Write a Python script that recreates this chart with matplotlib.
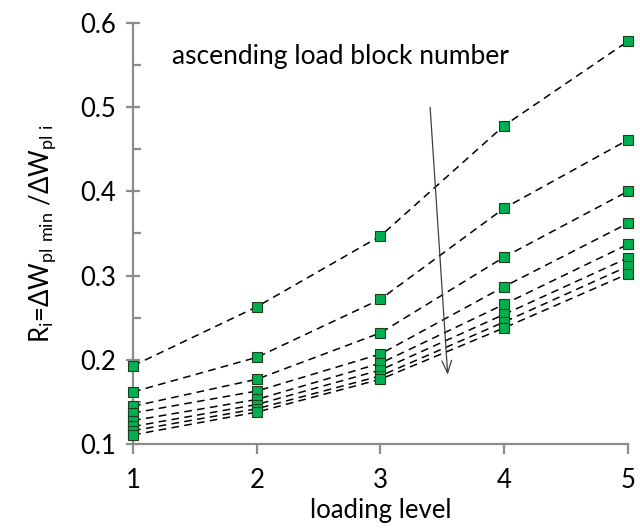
import matplotlib

matplotlib.use("Agg")

import matplotlib.pyplot as plt
from matplotlib.ticker import MultipleLocator

plt.rcParams["font.family"] = ["Lato", "DejaVu Sans"]
plt.rcParams["mathtext.fontset"] = "custom"
plt.rcParams["mathtext.rm"] = "Lato"

# loading levels on the x axis
LEVELS = [1, 2, 3, 4, 5]

# ratio R_i per load block, first block on top
BLOCK_1 = [0.193, 0.263, 0.347, 0.478, 0.578]
BLOCK_2 = [0.162, 0.203, 0.272, 0.380, 0.461]
BLOCK_3 = [0.145, 0.177, 0.232, 0.322, 0.400]
BLOCK_4 = [0.137, 0.163, 0.207, 0.287, 0.362]
BLOCK_5 = [0.128, 0.153, 0.196, 0.266, 0.337]
BLOCK_6 = [0.121, 0.147, 0.188, 0.254, 0.321]
BLOCK_7 = [0.116, 0.142, 0.181, 0.245, 0.311]
BLOCK_8 = [0.111, 0.138, 0.177, 0.238, 0.302]
BLOCKS = [BLOCK_1, BLOCK_2, BLOCK_3, BLOCK_4, BLOCK_5, BLOCK_6, BLOCK_7, BLOCK_8]

AXIS_GREY = "#8c8c8c"
FONT_SIZE = 18.5

fig = plt.figure(figsize=(6.4, 5.3), dpi=100)
ax = fig.add_axes([0.208, 0.162, 0.773, 0.795])

for values in BLOCKS:
    ax.plot(LEVELS, values, linestyle=(0, (5, 3.5)), color="black", linewidth=1.1,
            marker="s", markersize=6.5, markerfacecolor="#00b050",
            markeredgecolor="#1f3d1f", markeredgewidth=0.8, clip_on=False, zorder=3)

ax.set_xlim(1, 5)
ax.set_ylim(0.1, 0.6)
ax.xaxis.set_major_locator(MultipleLocator(1))
ax.yaxis.set_major_locator(MultipleLocator(0.1))
ax.yaxis.set_minor_locator(MultipleLocator(0.05))
ax.yaxis.set_major_formatter(plt.FuncFormatter(lambda v, _: f"{v:.1f}"))

for side in ("top", "right"):
    ax.spines[side].set_visible(False)
for side in ("left", "bottom"):
    ax.spines[side].set_color(AXIS_GREY)
    ax.spines[side].set_linewidth(1.6)

ax.tick_params(axis="y", which="major", direction="inout", length=10, width=1.6,
               color=AXIS_GREY, labelsize=FONT_SIZE, pad=7)
ax.tick_params(axis="y", which="minor", direction="in", length=6, width=1.6,
               color=AXIS_GREY)
ax.tick_params(axis="x", which="major", direction="out", length=7, width=1.6,
               color=AXIS_GREY, labelsize=FONT_SIZE, pad=10)

ax.set_xlabel("loading level", fontsize=FONT_SIZE, labelpad=4)
ax.set_ylabel(r"R$_\mathregular{i}$=ΔW$_\mathregular{pl\ min}$ /ΔW$_\mathregular{pl\ i}$",
              fontsize=FONT_SIZE, labelpad=16)

ax.text(2.68, 0.560, "ascending load block number", fontsize=FONT_SIZE + 0.5,
        ha="center", va="center")
ax.annotate("", xy=(3.545, 0.179), xytext=(3.40, 0.503),
            arrowprops=dict(arrowstyle="->,head_length=0.9,head_width=0.35",
                            color="#404040", linewidth=0.9))

fig.savefig("out.png", dpi=100)
